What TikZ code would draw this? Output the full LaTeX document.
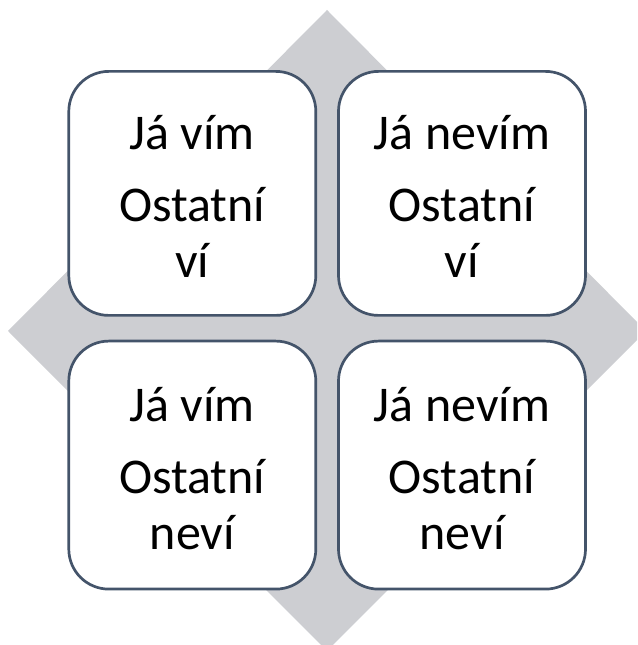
\documentclass[tikz,border=0pt]{standalone}
\usepackage{fontspec}
\setmainfont{Carlito}
\usetikzlibrary{positioning}

\definecolor{diamondgray}{RGB}{205,206,210}
\definecolor{boxline}{RGB}{68,84,106}

\begin{document}
\begin{tikzpicture}[x=1pt, y=1pt,
    cell/.style={draw=boxline, line width=2.7pt, fill=white, rounded corners=40pt,
      minimum width=247pt, minimum height=244pt, inner sep=0pt, align=center,
      font=\fontsize{50}{56}\selectfont}]
      \useasboundingbox (0, 0) rectangle (637, 645);
      \clip (0, 0) rectangle (637, 645);

      % diamond behind the boxes
      \fill[diamondgray] (327, 635) -- (646, 314) -- (327, -6) -- (8, 314) -- cycle;

      \node[cell] (vimvi) at (192.3, 451.6) {\rule{0pt}{41pt}Já vím\\[16pt]Ostatní\\ví};
      \node[cell, right=20pt of vimvi] (nevimvi) {\rule{0pt}{41pt}Já nevím\\[16pt]Ostatní\\ví};
      \node[cell, below=23pt of vimvi, minimum height=248pt] (vimnevi) {\rule{0pt}{41pt}Já vím\\[16pt]Ostatní\\neví};
      \node[cell, below=23pt of nevimvi, minimum height=248pt] (nevimnevi) {\rule{0pt}{41pt}Já nevím\\[16pt]Ostatní\\neví};
    \end{tikzpicture}
\end{document}
